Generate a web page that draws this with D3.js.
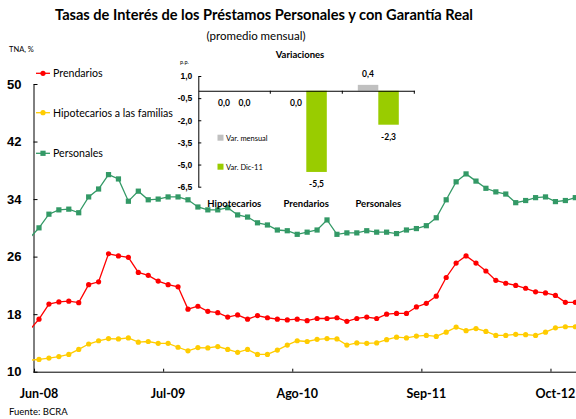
<!DOCTYPE html>
<html>
<head>
<meta charset="utf-8">
<script src="https://cdn.jsdelivr.net/npm/d3@7"></script>
<style>
  body { margin: 0; background: #fff; }
  svg { font-family: Lato, "Noto Sans", sans-serif; }
</style>
</head>
<body>
<svg id="chart" width="576" height="419"></svg>
<script>
// monthly series, May-08 (clipped at the left edge) to Dic-12
const FIRST_INDEX = -1;
const prendarios = [15.7, 17.3, 19.4, 19.7, 19.8, 19.6, 22.1, 22.5, 26.4, 26.1, 25.9, 23.8, 23.4, 22.6, 22.1, 21.8,
    18.7, 19.1, 18.4, 18.2, 17.6, 17.9, 17.3, 17.8, 17.5, 17.3, 17.2, 17.3, 17.1, 17.4, 17.4, 17.5, 17.0, 17.4, 17.6,
    17.4, 18.0, 18.1, 18.1, 19.0, 19.5, 20.5, 23.1, 25.1, 26.1, 25.1, 24.0, 22.7, 22.3, 22.0, 21.6, 21.1, 20.95, 20.6,
    19.65, 19.65];
const hipotecarios = [11.6, 11.7, 11.9, 12.1, 12.4, 13.1, 13.85, 14.3, 14.6, 14.55, 14.7, 14.1, 14.2, 13.95, 13.95, 13.4,
    12.9, 13.35, 13.3, 13.5, 13.1, 12.7, 13.1, 12.4, 12.4, 13.0, 13.7, 14.3, 14.2, 14.5, 14.6, 14.55, 13.7, 14.0, 13.95,
    14.0, 14.45, 14.8, 14.7, 14.95, 15.05, 14.9, 15.5, 16.2, 15.7, 16.0, 15.6, 15.05, 15.05, 15.2, 15.15, 15.05, 15.5,
    16.1, 16.25, 16.25];
const personales = [28.5, 30.0, 31.9, 32.5, 32.6, 32.1, 34.3, 35.4, 37.4, 36.8, 33.7, 35.1, 33.9, 34.0, 34.3, 34.3,
    33.9, 32.9, 32.5, 32.5, 32.8, 31.8, 31.5, 30.7, 30.4, 29.7, 29.6, 29.1, 29.4, 29.7, 31.1, 29.1, 29.3, 29.3, 29.6,
    29.4, 29.4, 29.2, 29.7, 29.9, 30.3, 31.4, 33.9, 36.4, 37.5, 36.5, 35.5, 35.0, 34.7, 33.5, 33.8, 34.2, 34.3, 33.65,
    33.8, 34.2];

const tickIndex = [0, 13, 26, 39, 52];
const tickLabels = ["Jun-08", "Jul-09", "Ago-10", "Sep-11", "Oct-12"];
const yTicks = [10, 18, 26, 34, 42, 50];

// inset: variations in p.p.
const varCategories = ["Hipotecarios", "Prendarios", "Personales"];
const varMensual = [0.0, 0.0, 0.4];
const varDic11 = [0.0, -5.5, -2.3];
const varTicks = [1.0, -0.5, -2.0, -3.5, -5.0, -6.5];

const COLORS = {
    prendarios: "#ff0000",
    hipotecarios: "#ffcc00",
    personales: "#339966",
    mensual: "#c0c0c0",
    dic11: "#99cc00"
};

const PLOT = { left: 33.5, right: 576, top: 84, bottom: 371.7 };

const svg = d3.select("#chart");
const comma = d => d3.format(".1f")(d).replace(".", ",").replace("\u2212", "-");

// titles
svg.append("text")
    .attr("x", 264).attr("y", 20)
    .attr("text-anchor", "middle")
    .attr("font-size", "14.6px").attr("font-weight", "bold")
    .text("Tasas de Interés de los Préstamos Personales y con Garantía Real");
svg.append("text")
    .attr("x", 256).attr("y", 40)
    .attr("text-anchor", "middle")
    .attr("font-size", "11.5px")
    .text("(promedio mensual)");
svg.append("text")
    .attr("x", 9).attr("y", 52)
    .attr("font-size", "7.5px")
    .text("TNA, %");
svg.append("text")
    .attr("x", 9).attr("y", 415)
    .attr("font-size", "9.5px")
    .text("Fuente: BCRA");

// main scales
const x = d3.scaleLinear().domain([0, 54]).range([39, 575.3]);
const y = d3.scaleLinear().domain([10, 50]).range([PLOT.bottom, PLOT.top]);

svg.append("defs").append("clipPath").attr("id", "plot-clip")
    .append("rect")
    .attr("x", 32).attr("y", 0)
    .attr("width", 576 - 32).attr("height", 419);

// y axis
svg.append("g")
    .attr("transform", `translate(${PLOT.left},0)`)
    .call(d3.axisLeft(y).tickValues(yTicks).tickSizeInner(-4).tickSizeOuter(0).tickPadding(12))
    .call(g => g.select(".domain").attr("stroke", "#000"))
    .call(g => g.selectAll("text").attr("font-size", "13px").attr("font-weight", "bold").attr("fill", "#000"));

// x axis, ticks between categories
svg.append("g")
    .attr("transform", `translate(0,${PLOT.bottom})`)
    .call(d3.axisBottom(x).tickValues(tickIndex.map(k => k - 0.5)).tickSizeInner(-3).tickSizeOuter(0).tickFormat(""))
    .call(g => g.select(".domain").attr("d", `M${PLOT.left},0.5H${PLOT.right}`));

svg.append("g").selectAll("text")
    .data(tickIndex)
    .join("text")
    .attr("x", k => x(k))
    .attr("y", 398)
    .attr("text-anchor", "middle")
    .attr("font-size", "12.5px").attr("font-weight", "bold")
    .text((k, i) => tickLabels[i]);

// series
const seriesList = [
    { name: "Prendarios", values: prendarios, color: COLORS.prendarios, marker: "circle" },
    { name: "Hipotecarios a las familias", values: hipotecarios, color: COLORS.hipotecarios, marker: "circle" },
    { name: "Personales", values: personales, color: COLORS.personales, marker: "square" }
];

const line = d3.line()
    .x((d, i) => x(i + FIRST_INDEX))
    .y(d => y(d));

function drawMarkers(g, points, s) {
    if (s.marker === "circle") {
        g.selectAll("circle")
            .data(points)
            .join("circle")
            .attr("cx", p => p.cx).attr("cy", p => p.cy)
            .attr("r", 2.6)
            .attr("fill", s.color);
    } else {
        g.selectAll("rect")
            .data(points)
            .join("rect")
            .attr("x", p => p.cx - 2.6).attr("y", p => p.cy - 2.6)
            .attr("width", 5.2).attr("height", 5.2)
            .attr("fill", s.color);
    }
}

const plotG = svg.append("g").attr("clip-path", "url(#plot-clip)");
seriesList.forEach(s => {
    plotG.append("path")
        .datum(s.values)
        .attr("d", line)
        .attr("fill", "none")
        .attr("stroke", s.color)
        .attr("stroke-width", 1.3);
    const pts = s.values.map((v, i) => ({ cx: x(i + FIRST_INDEX), cy: y(v) }));
    drawMarkers(plotG.append("g"), pts, s);
});

// legend
const legendY = [73.3, 112.7, 153.3];
seriesList.forEach((s, i) => {
    const lg = svg.append("g").attr("transform", `translate(0,${legendY[i]})`);
    lg.append("line")
        .attr("x1", 36).attr("x2", 50)
        .attr("stroke", s.color).attr("stroke-width", 1.3);
    drawMarkers(lg.append("g"), [{ cx: 43, cy: 0 }], s);
    lg.append("text")
        .attr("x", 53).attr("y", 4)
        .attr("font-size", "10.6px")
        .text(s.name);
});

// inset chart
const inset = svg.append("g");
const vx = d3.scaleBand().domain(varCategories).range([198.3, 414.3]);
const vy = d3.scaleLinear().domain([-6.5, 1.0]).range([186.7, 76]);
const BAR_W = 20.5;

inset.append("text")
    .attr("x", 300).attr("y", 58)
    .attr("text-anchor", "middle")
    .attr("font-size", "9.5px").attr("font-weight", "bold")
    .text("Variaciones");
inset.append("text")
    .attr("x", 180).attr("y", 64)
    .attr("font-size", "5.5px")
    .text("p.p.");

inset.append("g")
    .attr("transform", "translate(198.3,0)")
    .call(d3.axisLeft(vy).tickValues(varTicks).tickFormat(comma).tickSizeInner(-3).tickSizeOuter(0).tickPadding(6))
    .call(g => g.selectAll("text").attr("font-size", "8.5px").attr("font-weight", "bold").attr("fill", "#000"));

const barSeries = [
    { values: varMensual, color: COLORS.mensual, offset: -BAR_W },
    { values: varDic11, color: COLORS.dic11, offset: 0 }
];

barSeries.forEach(bs => {
    const bg = inset.append("g");
    bg.selectAll("rect")
        .data(varCategories)
        .join("rect")
        .attr("x", (c) => vx(c) + vx.bandwidth() / 2 + bs.offset)
        .attr("width", BAR_W)
        .attr("y", (c, i) => vy(Math.max(0, bs.values[i])))
        .attr("height", (c, i) => Math.abs(vy(bs.values[i]) - vy(0)))
        .attr("fill", bs.color);
    bg.selectAll("text")
        .data(varCategories)
        .join("text")
        .attr("x", (c) => vx(c) + vx.bandwidth() / 2 + bs.offset + BAR_W / 2)
        .attr("y", (c, i) => bs.values[i] > 0 ? vy(bs.values[i]) - 8 : vy(Math.min(0, bs.values[i])) + 15)
        .attr("text-anchor", "middle")
        .attr("font-size", "8.5px").attr("font-weight", "bold")
        .text((c, i) => comma(bs.values[i]));
});

// zero line with category ticks
inset.append("g")
    .attr("transform", `translate(0,${vy(0)})`)
    .call(d3.axisBottom(vx).tickValues(varCategories.slice(1).concat(["__end"])).tickSizeInner(3).tickSizeOuter(0).tickFormat(""))
    .call(g => g.selectAll(".tick").attr("transform", (c, i) => `translate(${vx.range()[0] + vx.bandwidth() * (i + 1)},0)`));

inset.append("g").selectAll("text")
    .data(varCategories)
    .join("text")
    .attr("x", c => vx(c) + vx.bandwidth() / 2)
    .attr("y", 207)
    .attr("text-anchor", "middle")
    .attr("font-size", "9.5px").attr("font-weight", "bold")
    .text(c => c);

// inset legend
[{ label: "Var. mensual", color: COLORS.mensual, y: 137.7 },
 { label: "Var. Dic-11", color: COLORS.dic11, y: 166.7 }].forEach(l => {
    inset.append("rect")
        .attr("x", 217.5).attr("y", l.y - 3)
        .attr("width", 6).attr("height", 6)
        .attr("fill", l.color);
    inset.append("text")
        .attr("x", 226).attr("y", l.y + 3)
        .attr("font-size", "7.5px")
        .text(l.label);
});
</script>
</body>
</html>
